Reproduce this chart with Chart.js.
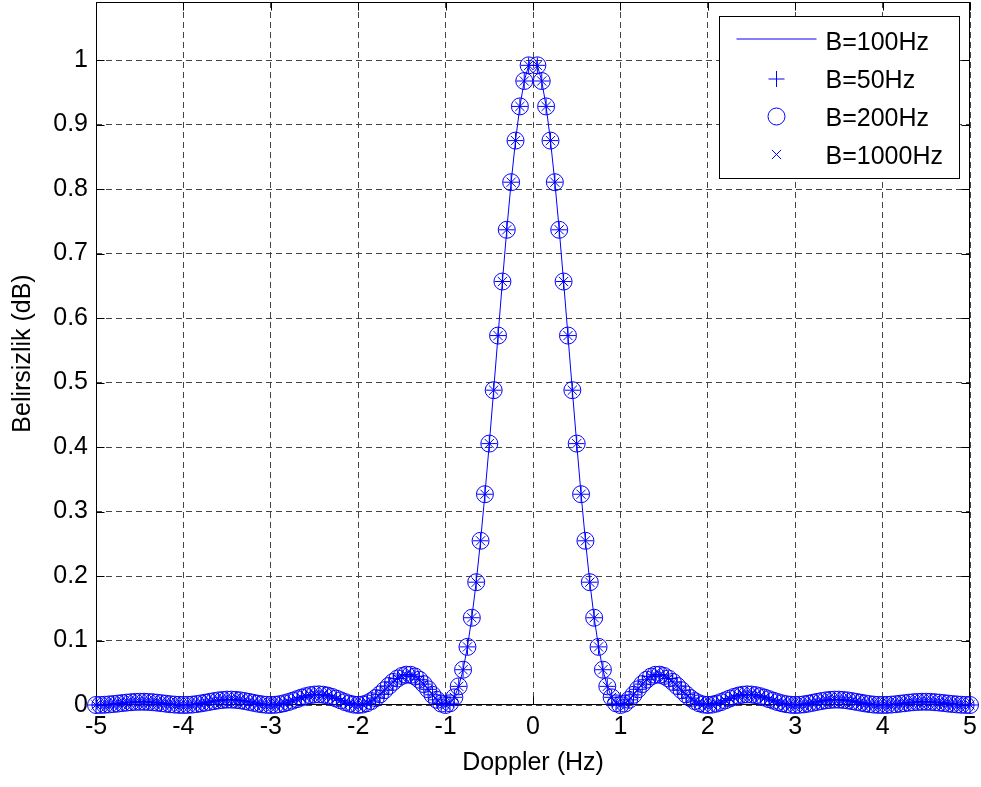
<!DOCTYPE html>
<html><head><meta charset="utf-8">
<script src="https://cdn.jsdelivr.net/npm/chart.js@4.4.0/dist/chart.umd.min.js"></script>
<style>html,body{margin:0;padding:0;background:#fff}#c{display:block}</style>
</head><body>
<canvas id="c" width="981" height="787"></canvas>
<script>
// Doppler axis samples (Hz)
const dopplerHz = [
-5,-4.95,-4.9,-4.85,-4.8,-4.75,-4.7,-4.65,-4.6,-4.55,-4.5,-4.45,-4.4,-4.35,-4.3,-4.25,-4.2,-4.15,-4.1,-4.05,
-4,-3.95,-3.9,-3.85,-3.8,-3.75,-3.7,-3.65,-3.6,-3.55,-3.5,-3.45,-3.4,-3.35,-3.3,-3.25,-3.2,-3.15,-3.1,-3.05,
-3,-2.95,-2.9,-2.85,-2.8,-2.75,-2.7,-2.65,-2.6,-2.55,-2.5,-2.45,-2.4,-2.35,-2.3,-2.25,-2.2,-2.15,-2.1,-2.05,
-2,-1.95,-1.9,-1.85,-1.8,-1.75,-1.7,-1.65,-1.6,-1.55,-1.5,-1.45,-1.4,-1.35,-1.3,-1.25,-1.2,-1.15,-1.1,-1.05,
-1,-0.95,-0.9,-0.85,-0.8,-0.75,-0.7,-0.65,-0.6,-0.55,-0.5,-0.45,-0.4,-0.35,-0.3,-0.25,-0.2,-0.15,-0.1,-0.05,
0,
0.05,0.1,0.15,0.2,0.25,0.3,0.35,0.4,0.45,0.5,0.55,0.6,0.65,0.7,0.75,0.8,0.85,0.9,0.95,1,
1.05,1.1,1.15,1.2,1.25,1.3,1.35,1.4,1.45,1.5,1.55,1.6,1.65,1.7,1.75,1.8,1.85,1.9,1.95,2,
2.05,2.1,2.15,2.2,2.25,2.3,2.35,2.4,2.45,2.5,2.55,2.6,2.65,2.7,2.75,2.8,2.85,2.9,2.95,3,
3.05,3.1,3.15,3.2,3.25,3.3,3.35,3.4,3.45,3.5,3.55,3.6,3.65,3.7,3.75,3.8,3.85,3.9,3.95,4,
4.05,4.1,4.15,4.2,4.25,4.3,4.35,4.4,4.45,4.5,4.55,4.6,4.65,4.7,4.75,4.8,4.85,4.9,4.95,5
];
// Ambiguity values (null at 0: no sample drawn there)
const belirsizlik = [
0,0.0001,0.0004,0.0009,0.0015,0.0022,0.0030,0.0037,0.0043,0.0048,0.0050,0.0050,0.0047,0.0043,0.0036,0.0028,0.0020,0.0012,0.0006,0.0002,
0,0.0002,0.0006,0.0014,0.0024,0.0036,0.0048,0.0060,0.0071,0.0078,0.0083,0.0083,0.0079,0.0072,0.0061,0.0048,0.0034,0.0021,0.0010,0.0003,
0,0.0003,0.0012,0.0026,0.0045,0.0067,0.0091,0.0115,0.0136,0.0152,0.0162,0.0165,0.0159,0.0146,0.0125,0.0100,0.0072,0.0045,0.0022,0.0006,
0,0.0007,0.0027,0.0061,0.0108,0.0165,0.0229,0.0295,0.0358,0.0411,0.0450,0.0470,0.0468,0.0441,0.0392,0.0324,0.0243,0.0158,0.0080,0.0022,
0,0.0027,0.0119,0.0289,0.0547,0.0901,0.1353,0.1904,0.2546,0.3268,0.4053,0.4881,0.5728,0.6566,0.7368,0.8106,0.8751,0.9281,0.9675,0.9918,
null,
0.9918,0.9675,0.9281,0.8751,0.8106,0.7368,0.6566,0.5728,0.4881,0.4053,0.3268,0.2546,0.1904,0.1353,0.0901,0.0547,0.0289,0.0119,0.0027,0,
0.0022,0.0080,0.0158,0.0243,0.0324,0.0392,0.0441,0.0468,0.0470,0.0450,0.0411,0.0358,0.0295,0.0229,0.0165,0.0108,0.0061,0.0027,0.0007,0,
0.0006,0.0022,0.0045,0.0072,0.0100,0.0125,0.0146,0.0159,0.0165,0.0162,0.0152,0.0136,0.0115,0.0091,0.0067,0.0045,0.0026,0.0012,0.0003,0,
0.0003,0.0010,0.0021,0.0034,0.0048,0.0061,0.0072,0.0079,0.0083,0.0083,0.0078,0.0071,0.0060,0.0048,0.0036,0.0024,0.0014,0.0006,0.0002,0,
0.0002,0.0006,0.0012,0.0020,0.0028,0.0036,0.0043,0.0047,0.0050,0.0050,0.0048,0.0043,0.0037,0.0030,0.0022,0.0015,0.0009,0.0004,0.0001,0
];
const seriesLabels = ['B=100Hz','B=50Hz','B=200Hz','B=1000Hz'];
const xTickValues = [-5,-4,-3,-2,-1,0,1,2,3,4,5];
const yTickValues = [0,0.1,0.2,0.3,0.4,0.5,0.6,0.7,0.8,0.9,1];
const xTitle = 'Doppler (Hz)';
const yTitle = 'Belirsizlik (dB)';

const FAMILY = "'Liberation Sans', Arial, Helvetica, sans-serif";
const BLUE = '#0000ff';
const points = dopplerHz.map((x, i) => ({x: x, y: belirsizlik[i]}));

function drawSymbol(ctx, style, cx, cy, r) {
  ctx.beginPath();
  if (style === 'circle') {
    ctx.arc(cx, cy, r, 0, Math.PI * 2);
  } else if (style === 'cross') {
    ctx.moveTo(cx - r, cy); ctx.lineTo(cx + r, cy);
    ctx.moveTo(cx, cy - r); ctx.lineTo(cx, cy + r);
  } else if (style === 'crossRot') {
    const d = r * Math.SQRT1_2;
    ctx.moveTo(cx - d, cy - d); ctx.lineTo(cx + d, cy + d);
    ctx.moveTo(cx + d, cy - d); ctx.lineTo(cx - d, cy + d);
  }
  ctx.stroke();
}

const framePlugin = {
  id: 'frame',
  beforeDatasetsDraw(chart) {
    const {ctx, chartArea: a, scales: {x, y}} = chart;
    ctx.save();
    ctx.strokeStyle = '#000';
    ctx.lineWidth = 1;
    const L = Math.round(a.left) + 0.5, R = Math.round(a.right) - 0.5;
    const T = Math.round(a.top) + 0.5, B = Math.round(a.bottom) - 0.5;
    ctx.strokeRect(L, T, R - L, B - T);
    const len = 8;
    ctx.beginPath();
    x.ticks.forEach(t => {
      const px = Math.round(x.getPixelForValue(t.value)) + 0.5;
      ctx.moveTo(px, B); ctx.lineTo(px, B - len);
      ctx.moveTo(px, T); ctx.lineTo(px, T + len);
    });
    y.ticks.forEach(t => {
      const py = Math.round(y.getPixelForValue(t.value)) + 0.5;
      ctx.moveTo(L, py); ctx.lineTo(L + len, py);
      ctx.moveTo(R, py); ctx.lineTo(R - len, py);
    });
    ctx.stroke();
    ctx.restore();
  },
  afterDraw(chart) {
    const {ctx, chartArea: a} = chart;
    const bx = Math.round(a.right - 251) + 0.5, by = Math.round(a.top + 14) + 0.5;
    const bw = 240, bh = 162;
    ctx.save();
    ctx.fillStyle = '#fff';
    ctx.fillRect(bx, by, bw, bh);
    ctx.strokeStyle = '#000';
    ctx.lineWidth = 1;
    ctx.strokeRect(bx, by, bw, bh);
    const rows = [24, 62.5, 100, 138];
    const ds = chart.data.datasets;
    ctx.font = '25px ' + FAMILY;
    ctx.textBaseline = 'alphabetic';
    ctx.textAlign = 'left';
    ds.forEach((d, i) => {
      const cy = by + rows[i];
      ctx.strokeStyle = BLUE;
      ctx.lineWidth = 1;
      if (d.showLine) {
        ctx.beginPath();
        ctx.moveTo(bx + 17, cy - 1.5); ctx.lineTo(bx + 97, cy - 1.5);
        ctx.stroke();
      } else {
        drawSymbol(ctx, d.pointStyle, bx + 57, cy, d.pointRadius);
      }
      ctx.fillStyle = '#000';
      ctx.fillText(d.label, bx + 106, cy + 9);
    });
    ctx.restore();
  }
};

const axisFont = {family: FAMILY, size: 25};

new Chart(document.getElementById('c'), {
  type: 'scatter',
  data: {
    datasets: [
      {label: seriesLabels[0], data: points, showLine: true, borderColor: BLUE, borderWidth: 1,
       pointRadius: 0, pointHoverRadius: 0, spanGaps: false, fill: false, tension: 0},
      {label: seriesLabels[1], data: points, showLine: false, pointStyle: 'cross', pointRadius: 8,
       pointBorderColor: BLUE, pointBorderWidth: 1, pointBackgroundColor: 'rgba(0,0,0,0)', clip: false},
      {label: seriesLabels[2], data: points, showLine: false, pointStyle: 'circle', pointRadius: 8.5,
       pointBorderColor: BLUE, pointBorderWidth: 1, pointBackgroundColor: 'rgba(0,0,0,0)', clip: false},
      {label: seriesLabels[3], data: points, showLine: false, pointStyle: 'crossRot', pointRadius: 6.5,
       pointBorderColor: BLUE, pointBorderWidth: 1, pointBackgroundColor: 'rgba(0,0,0,0)', clip: false}
    ]
  },
  options: {
    responsive: false,
    animation: false,
    events: [],
    devicePixelRatio: 1,
    layout: {autoPadding: false, padding: {left: 0, right: 11, top: 2, bottom: 0}},
    plugins: {legend: {display: false}, tooltip: {enabled: false}},
    scales: {
      x: {
        type: 'linear', min: -5, max: 5,
        afterBuildTicks(s) { s.ticks = xTickValues.map(v => ({value: v})); },
        afterFit(s) { s.height = 82; s.paddingLeft = 0; s.paddingRight = 0; },
        grid: {color: '#444', lineWidth: 1, drawTicks: false},
        border: {display: false, dash: [6, 4]},
        ticks: {color: '#000', font: axisFont, padding: 7, maxRotation: 0, autoSkip: false,
                callback: v => String(v)},
        title: {display: true, text: xTitle, color: '#000', font: axisFont, padding: {top: 0, bottom: 9}}
      },
      y: {
        type: 'linear', min: 0, max: 1.09,
        afterBuildTicks(s) { s.ticks = yTickValues.map(v => ({value: v})); },
        afterFit(s) { s.width = 96; s.paddingTop = 0; s.paddingBottom = 0; },
        grid: {color: '#444', lineWidth: 1, drawTicks: false},
        border: {display: false, dash: [6, 4]},
        ticks: {color: '#000', font: axisFont, padding: 8, autoSkip: false, callback: v => String(v)},
        title: {display: true, text: yTitle, color: '#000', font: axisFont, padding: {top: 8, bottom: 0}}
      }
    }
  },
  plugins: [framePlugin]
});
</script>
</body></html>
